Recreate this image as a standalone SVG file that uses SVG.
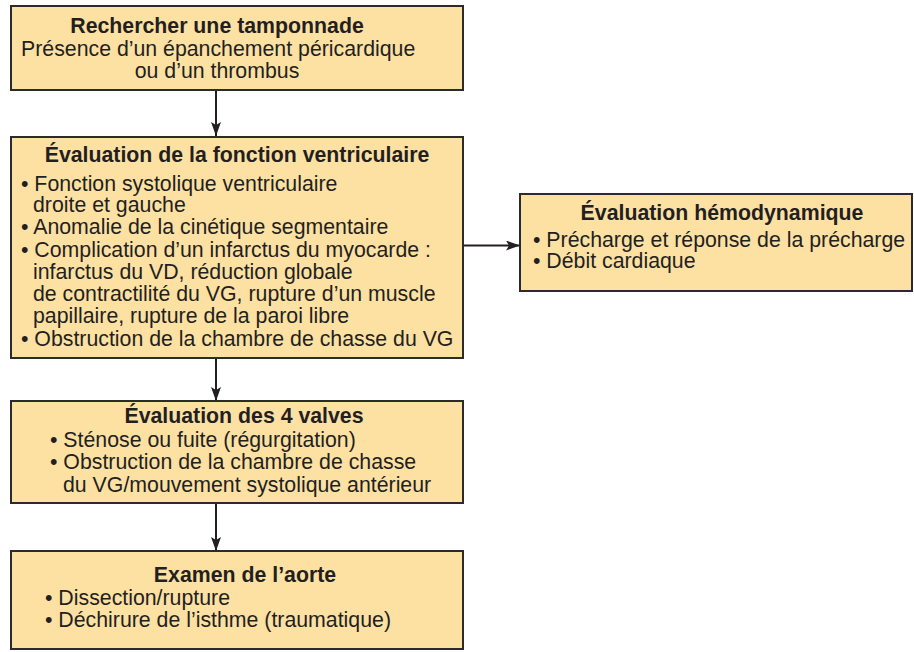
<svg xmlns="http://www.w3.org/2000/svg" width="914" height="652" viewBox="0 0 914 652">
<defs>
<marker id="ah" viewBox="0 0 14 10" refX="14" refY="5" markerWidth="14" markerHeight="10" markerUnits="userSpaceOnUse" orient="auto">
<path d="M0,0 L14,5 L0,10 L3,5 Z" fill="#231f20"/>
</marker>
<style>
.box{fill:#fde1a3;stroke:#2b2b2b;stroke-width:2}
text{font-family:"Liberation Sans",Arial,sans-serif;font-size:21.3px;fill:#231f20}
.t{font-weight:bold;text-anchor:middle}
.c{text-anchor:middle}
.ln{stroke:#231f20;stroke-width:2;fill:none}
</style>
</defs>
<rect width="914" height="652" fill="#fff"/>
<g id="connectors">
<line class="ln" x1="216" y1="90" x2="216" y2="136" marker-end="url(#ah)"/>
<line class="ln" x1="216" y1="358" x2="216" y2="401" marker-end="url(#ah)"/>
<line class="ln" x1="216" y1="503" x2="216" y2="551" marker-end="url(#ah)"/>
<line class="ln" x1="463" y1="245.5" x2="520" y2="245.5" marker-end="url(#ah)"/>
</g>
<g id="tamponnade">
<rect class="box" x="11" y="6" width="452" height="84"/>
<text class="t" x="217" y="33">Rechercher une tamponnade</text>
<text x="21" y="56">Présence d’un épanchement péricardique</text>
<text class="c" x="217" y="78">ou d’un thrombus</text>
</g>
<g id="ventriculaire">
<rect class="box" x="11" y="137" width="452" height="221"/>
<text class="t" x="237" y="162">Évaluation de la fonction ventriculaire</text>
<text x="21" y="191">• Fonction systolique ventriculaire</text>
<text x="33" y="212">droite et gauche</text>
<text x="21" y="234">• Anomalie de la cinétique segmentaire</text>
<text x="21" y="257">• Complication d’un infarctus du myocarde :</text>
<text x="33" y="279">infarctus du VD, réduction globale</text>
<text x="33" y="301">de contractilité du VG, rupture d’un muscle</text>
<text x="33" y="323">papillaire, rupture de la paroi libre</text>
<text x="21" y="346">• Obstruction de la chambre de chasse du VG</text>
</g>
<g id="hemodynamique">
<rect class="box" x="520" y="194" width="392" height="97"/>
<text class="t" x="722" y="220">Évaluation hémodynamique</text>
<text x="533" y="247">• Précharge et réponse de la précharge</text>
<text x="533" y="268">• Débit cardiaque</text>
</g>
<g id="valves">
<rect class="box" x="11" y="401" width="452" height="102"/>
<text class="t" x="244" y="423">Évaluation des 4 valves</text>
<text x="50" y="447">• Sténose ou fuite (régurgitation)</text>
<text x="50" y="469">• Obstruction de la chambre de chasse</text>
<text x="63" y="492">du VG/mouvement systolique antérieur</text>
</g>
<g id="aorte">
<rect class="box" x="11" y="551" width="452" height="98"/>
<text class="t" x="245" y="582">Examen de l’aorte</text>
<text x="45" y="605">• Dissection/rupture</text>
<text x="45" y="627">• Déchirure de l’isthme (traumatique)</text>
</g>
</svg>
